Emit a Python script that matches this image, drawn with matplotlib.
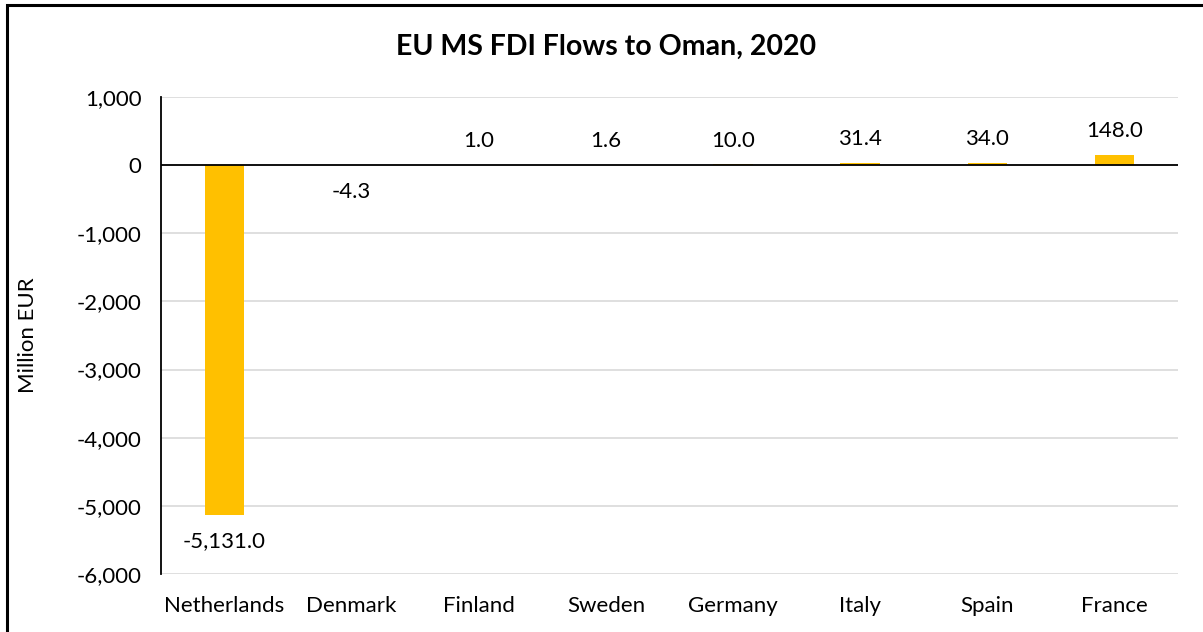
import matplotlib.pyplot as plt
from matplotlib.ticker import FuncFormatter
from matplotlib.patches import Rectangle

# ── Data ──────────────────────────────────────────────────────────────────────
countries = ['Netherlands', 'Denmark', 'Finland', 'Sweden',
             'Germany', 'Italy', 'Spain', 'France']
flows = [-5131.0, -4.3, 1.0, 1.6, 10.0, 31.4, 34.0, 148.0]

plt.rcParams['font.family'] = ['Lato', 'DejaVu Sans']
FS = 16

fig = plt.figure(figsize=(12.03, 6.32), dpi=100)
ax = fig.add_axes([161 / 1203, 1 - 574 / 632, (1178 - 161) / 1203, (574 - 97) / 632])

# outer chart frame (right/bottom edges fall outside the image)
fig.patches.append(Rectangle((7 / 1203, -0.05), 1.2, 1 - 5 / 632 + 0.05,
                             transform=fig.transFigure, fill=False,
                             edgecolor='black', linewidth=2.2))

x = range(len(countries))
ax.bar(x, flows, width=0.31, color='#FFC000', zorder=2)

ax.axhline(0, color='black', linewidth=1.3, zorder=3)
ax.set_xlim(-0.5, len(countries) - 0.5)
ax.set_ylim(-6000, 1000)
ax.set_yticks(range(-6000, 1001, 1000))
ax.yaxis.set_major_formatter(FuncFormatter(lambda v, p: f'{v:,.0f}'))
ax.grid(axis='y', color='#d9d9d9', linewidth=1.2, zorder=0)
ax.set_axisbelow(True)

for s in ['top', 'right', 'bottom']:
    ax.spines[s].set_visible(False)
ax.spines['left'].set_linewidth(1.3)

ax.set_xticks(list(x))
ax.set_xticklabels(countries)
ax.tick_params(axis='both', length=0, labelsize=FS, pad=14)
ax.tick_params(axis='x', pad=16)
ax.set_ylabel('Million EUR', fontsize=FS, labelpad=28)

for i, v in enumerate(flows):
    if v >= 0:
        ax.annotate(f'{v:,.1f}', (i, v), xytext=(0, 10), textcoords='offset points',
                    ha='center', va='bottom', fontsize=FS)
    else:
        ax.annotate(f'{v:,.1f}', (i, v), xytext=(0, -12), textcoords='offset points',
                    ha='center', va='top', fontsize=FS)

fig.text(606 / 1203, 1 - 47 / 632, 'EU MS FDI Flows to Oman, 2020',
         ha='center', va='center', fontsize=20.5, fontweight='bold')

fig.savefig('out.png', dpi=100)
